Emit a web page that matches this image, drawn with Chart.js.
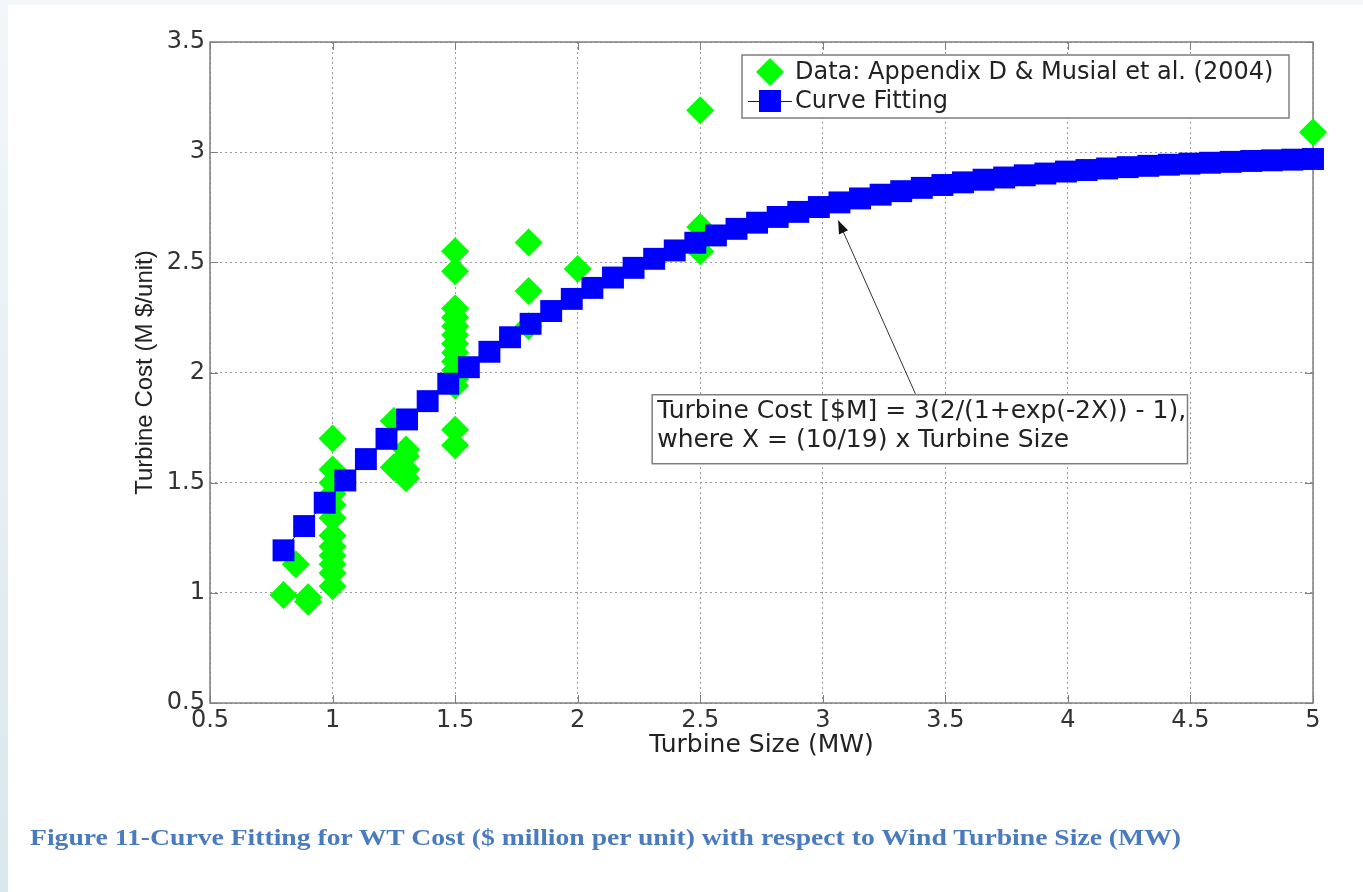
<!DOCTYPE html>
<html><head><meta charset="utf-8">
<script src="https://cdn.jsdelivr.net/npm/chart.js@4.4.0/dist/chart.umd.min.js"></script>
<style>
html,body{margin:0;padding:0;width:1363px;height:892px;overflow:hidden;background:linear-gradient(to bottom,#f2f7fa,#d9e7ee);}
#panel{position:absolute;left:8px;top:5px;right:0;bottom:0;background:#fff;}
#c{position:absolute;left:0;top:0;}
#cap{position:absolute;left:30px;top:824px;font:bold 24px "Liberation Serif",serif;color:#4a7bbf;white-space:nowrap;transform:scaleX(1.152);transform-origin:0 50%;}
</style></head><body>
<div id="panel"></div>
<canvas id="c" width="1363" height="892"></canvas>
<div id="cap">Figure 11-Curve Fitting for WT Cost ($ million per unit) with respect to Wind Turbine Size (MW)</div>
<script>
// Observed data (turbine size MW, cost M$/unit)
const dataX = [0.8,0.85,0.9,0.9, 1,1,1,1,1,1,1,1,1,1,1,1, 1.25,1.25, 1.3,1.3,1.3,1.3, 1.5,1.5,1.5,1.5,1.5,1.5,1.5,1.5,1.5,1.5,1.5,1.5,1.5,1.5, 1.8,1.8,1.8, 2, 2.5,2.5,2.5, 5];
const dataY = [0.99,1.13,0.96,0.98, 1.70,1.56,1.50,1.45,1.40,1.34,1.26,1.21,1.17,1.13,1.09,1.03, 1.78,1.57, 1.65,1.62,1.56,1.52, 2.55,2.46,2.29,2.25,2.21,2.17,2.13,2.09,2.05,2.01,1.97,1.94,1.74,1.67, 2.59,2.37,2.21, 2.47, 3.19,2.66,2.55, 3.09];
// Curve fitting points
const fitX = [0.8,0.884,0.968,1.052,1.136,1.22,1.304,1.388,1.472,1.556,1.64,1.724,1.808,1.892,1.976,2.06,2.144,2.228,2.312,2.396,2.48,2.564,2.648,2.732,2.816,2.9,2.984,3.068,3.152,3.236,3.32,3.404,3.488,3.572,3.656,3.74,3.824,3.908,3.992,4.076,4.16,4.244,4.328,4.412,4.496,4.58,4.664,4.748,4.832,4.916,5.0];
const fitY = [1.193,1.303,1.409,1.510,1.607,1.699,1.787,1.870,1.949,2.024,2.094,2.160,2.221,2.279,2.334,2.384,2.431,2.475,2.516,2.554,2.589,2.622,2.652,2.680,2.706,2.729,2.751,2.772,2.790,2.807,2.823,2.838,2.851,2.863,2.875,2.885,2.895,2.903,2.912,2.919,2.926,2.932,2.938,2.943,2.948,2.952,2.956,2.960,2.963,2.966,2.969];
const xTicks = [0.5,1,1.5,2,2.5,3,3.5,4,4.5,5];
const xTickLabels = ['0.5','1','1.5','2','2.5','3','3.5','4','4.5','5'];
const yTicks = [0.5,1,1.5,2,2.5,3,3.5];
const yTickLabels = ['0.5','1','1.5','2','2.5','3','3.5'];
const seriesNames = ['Data: Appendix D & Musial et al. (2004)','Curve Fitting'];
const xTitle = 'Turbine Size (MW)';
const yTitle = 'Turbine Cost (M $/unit)';
const noteLines = ['Turbine Cost [$M] = 3(2/(1+exp(-2X)) - 1),','where X = (10/19) x Turbine Size'];
const noteBox = {x0:2.304, y0:1.899, x1:4.488, y1:1.586};
const noteArrow = {fromX:3.378, fromY:1.903, toX:3.063, toY:2.69};

const AX = '#7f7f7f';
const frame = {
  id:'frame',
  beforeDatasetsDraw(chart){
    const {ctx, chartArea:a, scales:{x,y}} = chart;
    ctx.save();
    ctx.strokeStyle = AX; ctx.lineWidth = 1;
    ctx.beginPath();
    xTicks.forEach(v=>{const p=Math.round(x.getPixelForValue(v))+0.5;
      ctx.moveTo(p,a.bottom); ctx.lineTo(p,a.bottom-8); ctx.moveTo(p,a.top); ctx.lineTo(p,a.top+8);});
    yTicks.forEach(v=>{const p=Math.round(y.getPixelForValue(v))+0.5;
      ctx.moveTo(a.left,p); ctx.lineTo(a.left+8,p); ctx.moveTo(a.right,p); ctx.lineTo(a.right-8,p);});
    ctx.stroke();
    ctx.lineWidth = 1.5;
    ctx.strokeRect(a.left, a.top, a.right-a.left, a.bottom-a.top);
    ctx.restore();
  },
  afterDatasetsDraw(chart){
    const {ctx, chartArea:a, scales:{x,y}} = chart;
    ctx.save();
    // legend
    const lx = a.left+532, ly = a.top+13, lw = 547, lh = 63;
    ctx.fillStyle='#fff'; ctx.fillRect(lx,ly,lw,lh);
    ctx.strokeStyle=AX; ctx.lineWidth=1.5; ctx.strokeRect(lx,ly,lw,lh);
    const mx = lx+28, r1 = ly+17, r2 = ly+46;
    ctx.fillStyle='#00ff00';
    ctx.beginPath(); ctx.moveTo(mx-14,r1); ctx.lineTo(mx,r1-14); ctx.lineTo(mx+14,r1); ctx.lineTo(mx,r1+14); ctx.closePath(); ctx.fill();
    ctx.strokeStyle='#0000ff'; ctx.lineWidth=1;
    ctx.beginPath(); ctx.moveTo(lx+6,r2+0.5); ctx.lineTo(lx+50,r2+0.5); ctx.stroke();
    ctx.fillStyle='#0000ff'; ctx.fillRect(mx-11,r2-11,22,22);
    ctx.fillStyle='#222'; ctx.font='24px "DejaVu Sans"'; ctx.textBaseline='middle'; ctx.textAlign='left';
    ctx.fillText(seriesNames[0], lx+53, r1+1);
    ctx.fillText(seriesNames[1], lx+53, r2+1);
    // annotation arrow
    const fx=x.getPixelForValue(noteArrow.fromX), fy=y.getPixelForValue(noteArrow.fromY);
    const tx=x.getPixelForValue(noteArrow.toX), ty=y.getPixelForValue(noteArrow.toY);
    ctx.strokeStyle='#333'; ctx.lineWidth=1;
    ctx.beginPath(); ctx.moveTo(fx,fy); ctx.lineTo(tx,ty); ctx.stroke();
    const ang=Math.atan2(ty-fy,tx-fx);
    ctx.fillStyle='#111';
    ctx.beginPath(); ctx.moveTo(tx,ty);
    ctx.lineTo(tx-13*Math.cos(ang)+5*Math.sin(ang), ty-13*Math.sin(ang)-5*Math.cos(ang));
    ctx.lineTo(tx-13*Math.cos(ang)-5*Math.sin(ang), ty-13*Math.sin(ang)+5*Math.cos(ang));
    ctx.closePath(); ctx.fill();
    // annotation box
    const bx0=x.getPixelForValue(noteBox.x0), by0=y.getPixelForValue(noteBox.y0);
    const bx1=x.getPixelForValue(noteBox.x1), by1=y.getPixelForValue(noteBox.y1);
    ctx.fillStyle='#fff'; ctx.fillRect(bx0,by0,bx1-bx0,by1-by0);
    ctx.strokeStyle=AX; ctx.lineWidth=1.5; ctx.strokeRect(bx0,by0,bx1-bx0,by1-by0);
    ctx.fillStyle='#222'; ctx.font='25px "DejaVu Sans"';
    ctx.fillText(noteLines[0], bx0+5, by0+17);
    ctx.fillText(noteLines[1], bx0+5, by0+46);
    ctx.restore();
  }
};

new Chart(document.getElementById('c'), {
  type:'scatter',
  data:{datasets:[
    {label:seriesNames[1], data:fitX.map((v,i)=>({x:v,y:fitY[i]})), showLine:true, borderColor:'#0000ff', borderWidth:1,
     pointStyle:'rect', pointRadius:15.5, pointHoverRadius:15.5, pointBackgroundColor:'#0000ff', pointBorderColor:'#0000ff', pointBorderWidth:0, clip:false},
    {label:seriesNames[0], data:dataX.map((v,i)=>({x:v,y:dataY[i]})), showLine:false,
     pointStyle:'rectRot', pointRadius:14, pointHoverRadius:14, pointBackgroundColor:'#00ff00', pointBorderColor:'#00ff00', pointBorderWidth:0, clip:false}
  ]},
  options:{
    responsive:false, animation:false, devicePixelRatio:1,
    layout:{padding:{left:0,top:42,right:50,bottom:0}},
    plugins:{legend:{display:false}, tooltip:{enabled:false}},
    events:[],
    scales:{
      x:{type:'linear', min:0.5, max:5,
        afterBuildTicks:s=>{s.ticks = xTicks.map(v=>({value:v}));},
        afterFit:s=>{s.height=189;},
        ticks:{callback:v=>xTickLabels[xTicks.indexOf(v)], font:{family:'DejaVu Sans', size:24}, color:'#333', padding:3, maxRotation:0, autoSkip:false},
        grid:{color:'#9a9a9a', lineWidth:1, drawTicks:false},
        border:{display:false, dash:[2,3]},
        title:{display:true, text:xTitle, font:{family:'DejaVu Sans', size:25}, color:'#222', padding:{top:0,bottom:132}}
      },
      y:{type:'linear', min:0.5, max:3.5,
        afterBuildTicks:s=>{s.ticks = yTicks.map(v=>({value:v}));},
        afterFit:s=>{s.width=210;},
        ticks:{callback:v=>yTickLabels[yTicks.indexOf(v)], font:{family:'DejaVu Sans', size:24}, color:'#333', padding:5, autoSkip:false},
        grid:{color:'#9a9a9a', lineWidth:1, drawTicks:false},
        border:{display:false, dash:[2,3]},
        title:{display:true, text:yTitle, font:{family:'Liberation Sans', size:24}, color:'#222', padding:{top:131,bottom:0}}
      }
    }
  },
  plugins:[frame]
});
</script>
</body></html>
